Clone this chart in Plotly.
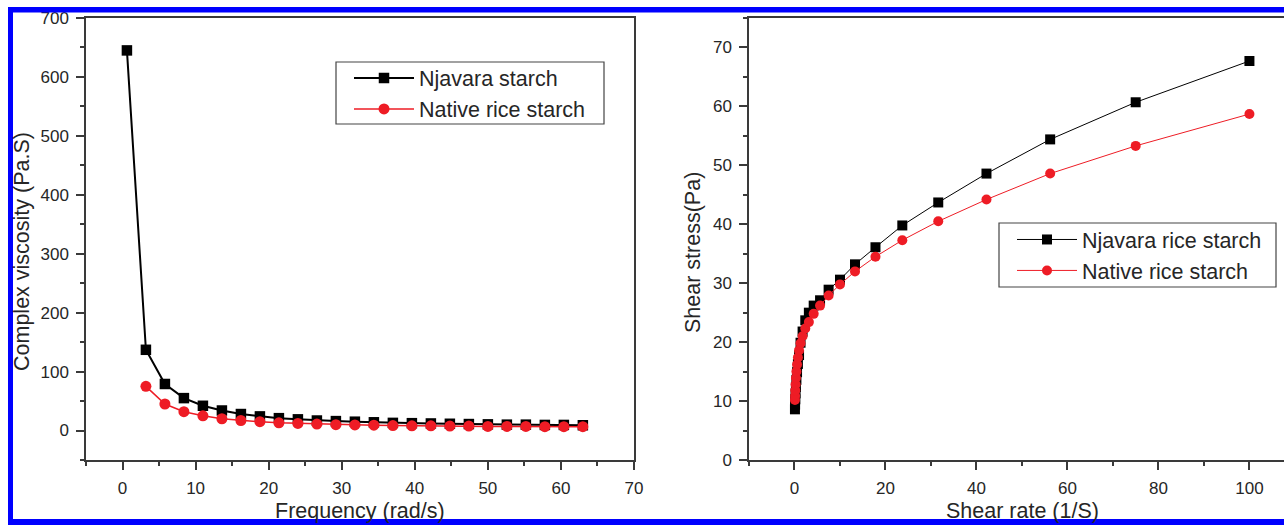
import plotly.graph_objects as go

W, H = 1284, 525

# Oscillatory sweep: complex viscosity vs angular frequency
freq_njavara = [0.6, 3.2, 5.8, 8.4, 11.0, 13.6, 16.2, 18.8, 21.4, 24.0, 26.6, 29.2, 31.8,
                34.4, 37.0, 39.6, 42.2, 44.8, 47.4, 50.0, 52.6, 55.2, 57.8, 60.4, 63.0]
visc_njavara = [645, 137, 79, 55, 42, 34, 28, 24, 21, 19, 17, 16, 15,
                14, 13, 12.5, 12, 11.5, 11, 10.5, 10, 10, 9.5, 9.5, 9]
freq_native = [3.2, 5.8, 8.4, 11.0, 13.6, 16.2, 18.8, 21.4, 24.0, 26.6, 29.2, 31.8,
               34.4, 37.0, 39.6, 42.2, 44.8, 47.4, 50.0, 52.6, 55.2, 57.8, 60.4, 63.0]
visc_native = [75, 45, 32, 25, 20, 17, 15, 13, 12, 11, 10, 9.5,
               9, 8.5, 8, 8, 7.5, 7.5, 7, 7, 7, 6.5, 6.5, 6.5]

# Flow curve: shear stress vs shear rate
shear_rate = [0.1, 0.133, 0.178, 0.237, 0.316, 0.422, 0.562, 0.75, 1.0, 1.33, 1.78, 2.37,
              3.16, 4.22, 5.62, 7.5, 10.0, 13.3, 17.8, 23.7, 31.6, 42.2, 56.2, 75.0, 100.0]
stress_njavara = [8.6, 9.4, 10.3, 11.3, 12.4, 13.6, 14.9, 16.3, 17.8, 19.9, 21.8, 23.7,
                  25.0, 26.2, 27.1, 28.9, 30.6, 33.2, 36.1, 39.8, 43.7, 48.6, 54.4, 60.7, 67.7]
stress_native = [10.2, 10.9, 11.8, 12.8, 13.9, 15.0, 16.2, 17.4, 18.6, 19.8, 21.0, 22.3,
                 23.4, 24.8, 26.2, 27.9, 29.8, 32.0, 34.5, 37.3, 40.5, 44.2, 48.6, 53.3, 58.7]

BLACK = "#000000"
RED = "#ee1c25"
AXIS = "#3a3a3a"
TEXT = "#262626"
FONT = "Liberation Sans, Arial, sans-serif"


def px_x(p):
    return p / W


def px_y(p):
    return 1 - p / H


fig = go.Figure()

fig.add_trace(go.Scatter(
    x=freq_njavara, y=visc_njavara, name="Njavara starch", mode="lines+markers",
    line=dict(color=BLACK, width=2), marker=dict(symbol="square", size=10.5, color=BLACK),
    xaxis="x", yaxis="y", legend="legend"))
fig.add_trace(go.Scatter(
    x=freq_native, y=visc_native, name="Native rice starch", mode="lines+markers",
    line=dict(color=RED, width=1.5), marker=dict(symbol="circle", size=11, color=RED),
    xaxis="x", yaxis="y", legend="legend"))

fig.add_trace(go.Scatter(
    x=shear_rate, y=stress_njavara, name="Njavara rice starch", mode="lines+markers",
    line=dict(color=BLACK, width=1), marker=dict(symbol="square", size=10, color=BLACK),
    xaxis="x2", yaxis="y2", legend="legend2"))
fig.add_trace(go.Scatter(
    x=shear_rate, y=stress_native, name="Native rice starch", mode="lines+markers",
    line=dict(color=RED, width=1), marker=dict(symbol="circle", size=10, color=RED),
    xaxis="x2", yaxis="y2", legend="legend2"))

y_dom = [px_y(460), px_y(18)]

axis_common = dict(
    showgrid=False, zeroline=False, showline=True, linecolor=AXIS, linewidth=1.5,
    ticks="outside", ticklen=8, tickwidth=1.5, tickcolor=AXIS, automargin=False,
    tickfont=dict(family=FONT, size=17, color=TEXT), ticklabelstandoff=4,
)


def minor(d):
    return dict(dtick=d, ticks="outside", ticklen=4, tickwidth=1.5, tickcolor=AXIS, showgrid=False)


legend_font = dict(family=FONT, size=21.5, color=TEXT)

fig.update_layout(
    template="none",
    width=W, height=H, autosize=False,
    margin=dict(l=0, r=0, t=0, b=0, pad=0, autoexpand=False),
    paper_bgcolor="white", plot_bgcolor="white",
    font=dict(family=FONT, color=TEXT),
    xaxis=dict(domain=[px_x(86), px_x(634)], anchor="y", range=[-5, 70], tick0=0, dtick=10,
               minor=minor(5), mirror=True, **axis_common),
    yaxis=dict(domain=y_dom, anchor="x", range=[-50, 700], tick0=0, dtick=100,
               minor=minor(50), mirror=True, **axis_common),
    xaxis2=dict(domain=[px_x(749), 1.0], anchor="y2", range=[-10, 107.6], tick0=0, dtick=20,
                minor=minor(10), mirror=True, **axis_common),
    yaxis2=dict(domain=y_dom, anchor="x2", range=[0, 75], tick0=0, dtick=10,
                minor=minor(5), mirror=False, **axis_common),
    legend=dict(x=px_x(349), y=px_y(93.5), xanchor="left", yanchor="middle",
                borderwidth=0, bgcolor="rgba(0,0,0,0)", font=legend_font,
                itemwidth=60, tracegroupgap=0),
    legend2=dict(x=px_x(1012), y=px_y(255), xanchor="left", yanchor="middle",
                 borderwidth=0, bgcolor="rgba(0,0,0,0)", font=legend_font,
                 itemwidth=60, tracegroupgap=0),
    showlegend=True,
)

# Legend frames
for x0, x1, y0, y1 in [(336, 604, 62, 124), (999, 1276, 223, 287)]:
    fig.add_shape(type="rect", xref="paper", yref="paper",
                  x0=px_x(x0), x1=px_x(x1), y0=px_y(y1), y1=px_y(y0),
                  fillcolor="white", line=dict(color="#444444", width=1.2), layer="below")

title_font = dict(family=FONT, size=21.5, color=TEXT)
fig.add_annotation(text="Complex viscosity (Pa.S)", xref="paper", yref="paper",
                   x=px_x(22), y=px_y(252), textangle=-90, showarrow=False,
                   xanchor="center", yanchor="middle", font=title_font)
fig.add_annotation(text="Shear stress(Pa)", xref="paper", yref="paper",
                   x=px_x(693), y=px_y(253), textangle=-90, showarrow=False,
                   xanchor="center", yanchor="middle", font=title_font)
fig.add_annotation(text="Frequency (rad/s)", xref="paper", yref="paper",
                   x=px_x(360), y=px_y(511), showarrow=False,
                   xanchor="center", yanchor="middle", font=title_font)
fig.add_annotation(text="Shear rate (1/S)", xref="paper", yref="paper",
                   x=px_x(1022), y=px_y(511), showarrow=False,
                   xanchor="center", yanchor="middle", font=title_font)

# Blue frame around the figure (top, left and bottom bars)
BLUE = "#0000ff"
for x0, x1, y0, y1 in [
    (8, W, 7, 12.5),
    (8, 13, 7, H),
    (8, W, 519, H),
]:
    fig.add_shape(type="rect", xref="paper", yref="paper",
                  x0=px_x(x0), x1=px_x(x1), y0=px_y(y1), y1=px_y(y0),
                  fillcolor=BLUE, line=dict(width=0), layer="above")

fig.write_html(
    "out.html",
    post_script="document.body.style.margin='0';document.body.style.overflow='hidden';",
)
